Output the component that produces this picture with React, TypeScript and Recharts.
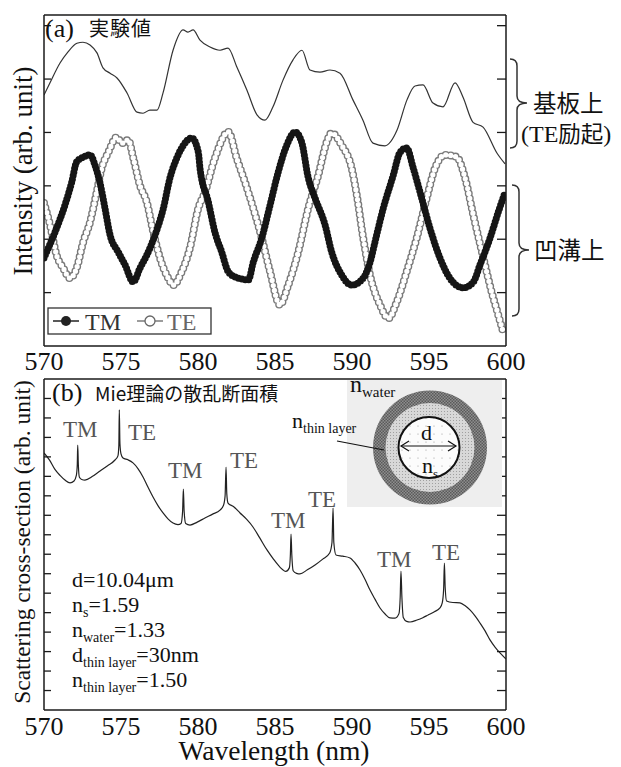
import React from 'react';
import { LineChart, Line, XAxis, YAxis } from 'recharts';

const SERIF = "'Liberation Serif', 'Times New Roman', serif";
const CJK = "'Noto Sans CJK JP', 'Noto Sans CJK SC', sans-serif";
const AX = '#1a1a1a';

const X_LABEL_TICKS = [570, 575, 580, 585, 590, 595, 600];
const X_MAJOR = [575, 580, 585, 590, 595];
const X_MINOR = [572.5, 577.5, 582.5, 587.5, 592.5, 597.5];
const TOP_Y_TICKS = [1, 2, 3, 4, 5, 6];
const BOT_Y_TICKS = [1, 2, 3, 4, 5, 6, 7, 8, 9, 10, 11, 12, 13, 14, 15, 16];

// (a) on substrate (TE excitation) - thin line
const SUB_WL = [570.0, 570.39, 571.04, 571.56, 572.14, 572.53, 572.99, 573.44, 573.83, 574.29, 574.74, 575.39, 576.04, 576.43, 576.88, 577.34, 577.73, 578.38, 579.03, 579.35, 579.68, 580.13, 580.78, 581.43, 581.95, 582.53, 583.18, 583.83, 584.35, 584.87, 585.52, 586.17, 586.75, 587.27, 587.92, 588.57, 589.22, 590.06, 590.71, 591.36, 592.14, 592.92, 593.57, 594.09, 594.61, 595.26, 595.91, 596.69, 597.21, 597.86, 598.51, 599.42, 599.94];
const SUB_VAL = [4.70, 4.93, 5.30, 5.51, 5.67, 5.69, 5.64, 5.49, 5.21, 5.11, 5.02, 4.74, 4.38, 4.36, 4.42, 4.42, 4.74, 5.54, 5.92, 5.88, 5.92, 5.73, 5.60, 5.54, 5.58, 5.22, 4.79, 4.33, 4.23, 4.48, 4.98, 5.36, 5.54, 5.17, 5.13, 5.17, 5.11, 4.61, 4.23, 3.80, 3.75, 4.04, 4.61, 4.87, 4.89, 4.55, 4.48, 4.93, 4.66, 4.19, 4.10, 3.61, 3.41];

// (a) groove TM (filled circles)
const TM_WL = [570.0, 570.71, 571.36, 571.80, 572.12, 572.55, 572.99, 573.31, 573.64, 573.96, 574.29, 574.82, 575.26, 575.80, 576.23, 576.67, 577.21, 577.75, 578.18, 578.62, 579.05, 579.59, 580.02, 580.13, 580.67, 581.10, 581.54, 581.97, 582.62, 583.27, 583.59, 584.14, 584.68, 585.21, 585.76, 586.30, 586.73, 587.16, 587.60, 588.25, 588.68, 589.33, 589.98, 590.73, 591.17, 591.60, 592.03, 592.68, 593.12, 593.55, 593.98, 594.42, 595.06, 595.71, 596.36, 597.23, 597.88, 598.31, 598.96, 599.50, 599.94];
const TM_VAL = [1.65, 2.13, 2.64, 3.07, 3.45, 3.54, 3.58, 3.39, 3.05, 2.58, 2.08, 1.76, 1.52, 1.20, 1.46, 1.70, 2.08, 2.58, 3.15, 3.52, 3.76, 3.90, 3.63, 3.33, 2.70, 2.13, 1.76, 1.39, 1.27, 1.24, 1.57, 2.02, 2.64, 3.26, 3.76, 4.01, 3.82, 3.15, 2.77, 2.27, 1.76, 1.33, 1.14, 1.27, 1.57, 2.08, 2.58, 3.20, 3.63, 3.71, 3.33, 2.88, 2.21, 1.65, 1.27, 1.09, 1.20, 1.52, 2.02, 2.51, 2.88];

// (a) groove TE (open circles)
const TE_WL = [570.0, 570.39, 570.82, 571.25, 571.69, 572.12, 572.55, 572.99, 573.42, 573.75, 574.18, 574.72, 575.06, 575.47, 575.80, 576.23, 576.67, 577.10, 577.53, 578.07, 578.40, 578.94, 579.48, 580.02, 580.45, 581.10, 581.97, 582.51, 583.05, 583.59, 584.14, 584.68, 585.32, 585.86, 586.51, 587.16, 587.81, 588.36, 588.68, 589.33, 589.98, 590.31, 590.73, 591.17, 591.82, 592.36, 592.90, 593.55, 594.20, 594.85, 595.39, 596.04, 596.80, 597.34, 597.88, 598.53, 599.07, 599.50, 599.82];
const TE_VAL = [2.68, 2.27, 1.70, 1.46, 1.27, 1.46, 1.95, 2.32, 2.88, 3.33, 3.63, 3.91, 3.80, 3.86, 3.52, 3.01, 2.70, 2.13, 1.65, 1.27, 1.14, 1.39, 1.84, 2.58, 2.88, 3.52, 4.01, 3.52, 3.07, 2.58, 2.02, 1.39, 0.77, 1.14, 1.76, 2.58, 3.20, 3.82, 3.99, 3.76, 3.33, 2.83, 2.02, 1.33, 0.77, 0.52, 0.82, 1.39, 2.02, 2.77, 3.33, 3.58, 3.54, 3.15, 2.45, 1.65, 1.01, 0.58, 0.26];

// (b) Mie scattering cross-section
const MIE_WL = [570.00, 570.35, 570.71, 571.04, 571.36, 571.69, 571.95, 572.10, 572.16, 572.19, 572.23, 572.30, 572.45, 572.66, 573.15, 573.64, 574.13, 574.61, 574.80, 574.86, 574.89, 574.93, 575.00, 575.13, 575.45, 575.78, 576.10, 576.43, 576.75, 577.08, 577.40, 577.73, 578.05, 578.38, 578.70, 578.90, 579.00, 579.05, 579.10, 579.20, 579.48, 579.95, 580.45, 580.95, 581.43, 581.65, 581.76, 581.82, 581.87, 581.95, 582.30, 582.73, 583.15, 583.57, 584.00, 584.48, 584.90, 585.32, 585.70, 585.93, 586.00, 586.04, 586.09, 586.18, 586.40, 586.62, 587.10, 587.60, 588.10, 588.55, 588.70, 588.77, 588.82, 588.96, 589.40, 589.87, 590.20, 590.52, 590.85, 591.17, 591.50, 591.82, 592.15, 592.47, 592.80, 593.05, 593.13, 593.18, 593.24, 593.33, 593.55, 593.77, 594.22, 594.60, 594.94, 595.35, 595.71, 595.86, 595.95, 596.00, 596.05, 596.14, 596.55, 597.01, 597.35, 597.66, 598.00, 598.31, 598.65, 598.96, 599.30, 599.61, 600.00];
const MIE_VAL = [13.20, 12.85, 12.36, 12.05, 11.81, 11.66, 11.76, 12.05, 12.60, 13.61, 12.60, 11.95, 11.84, 11.81, 12.00, 12.28, 12.55, 12.84, 13.05, 13.60, 15.41, 13.70, 13.15, 12.94, 12.85, 12.69, 12.40, 11.97, 11.45, 10.94, 10.50, 10.12, 9.82, 9.60, 9.52, 9.58, 10.20, 11.35, 10.20, 9.58, 9.50, 9.65, 9.86, 10.06, 10.27, 10.50, 11.00, 12.48, 11.10, 10.63, 10.45, 10.12, 9.80, 9.40, 8.85, 8.22, 7.75, 7.34, 7.12, 7.30, 8.00, 9.04, 8.00, 7.15, 7.02, 6.99, 7.20, 7.45, 7.75, 8.06, 8.60, 10.37, 8.60, 7.96, 7.90, 7.81, 7.55, 7.19, 6.70, 6.16, 5.68, 5.24, 4.93, 4.73, 4.72, 4.95, 5.80, 7.14, 5.80, 4.75, 4.55, 4.52, 4.62, 4.74, 4.88, 5.05, 5.24, 5.50, 6.20, 7.55, 6.30, 5.60, 5.52, 5.50, 5.35, 5.14, 4.82, 4.47, 4.05, 3.60, 3.22, 2.93, 2.62];

const zip = (xs: number[], ys: number[]) => xs.map((x, i) => ({ x, y: ys[i] }));
const subData = zip(SUB_WL, SUB_VAL);
const tmData = zip(TM_WL, TM_VAL);
const teData = zip(TE_WL, TE_VAL);
const mieData = zip(MIE_WL, MIE_VAL);

const empty = () => '';

function frameAxes(yDomain: number[], yTicks: number[], labelTickSize: number, axisHeight: number) {
  const common = { type: 'number' as const, domain: [570, 600], allowDataOverflow: true, interval: 0 as const, stroke: AX };
  return [
    <XAxis key="xmain" xAxisId="main" dataKey="x" {...common} ticks={X_LABEL_TICKS} height={axisHeight}
      tickLine={false} tickSize={labelTickSize} axisLine={{ stroke: AX, strokeWidth: 1.5 }}
      tick={{ fontSize: 26, fill: '#111', fontFamily: SERIF }} />,
    <XAxis key="xmaj" xAxisId="maj" {...common} ticks={X_MAJOR} mirror orientation="bottom" tickSize={9}
      axisLine={false} tickLine={{ strokeWidth: 1.3 }} tickFormatter={empty} />,
    <XAxis key="xmin" xAxisId="min" {...common} ticks={X_MINOR} mirror orientation="bottom" tickSize={5}
      axisLine={false} tickLine={{ strokeWidth: 1.3 }} tickFormatter={empty} />,
    <XAxis key="tmaj" xAxisId="tmaj" {...common} ticks={X_MAJOR} mirror orientation="top" tickSize={9}
      axisLine={{ stroke: AX, strokeWidth: 1.5 }} tickLine={{ strokeWidth: 1.3 }} tickFormatter={empty} />,
    <XAxis key="tmin" xAxisId="tmin" {...common} ticks={X_MINOR} mirror orientation="top" tickSize={6}
      axisLine={false} tickLine={{ strokeWidth: 1.3 }} tickFormatter={empty} />,
    <YAxis key="yl" yAxisId="L" type="number" domain={yDomain} allowDataOverflow ticks={yTicks} interval={0}
      mirror orientation="left" tickSize={7} stroke={AX} axisLine={{ stroke: AX, strokeWidth: 1.5 }}
      tickLine={{ strokeWidth: 1.3 }} tickFormatter={empty} />,
    <YAxis key="yr" yAxisId="R" type="number" domain={yDomain} allowDataOverflow ticks={yTicks} interval={0}
      mirror orientation="right" tickSize={9} stroke={AX} axisLine={{ stroke: AX, strokeWidth: 1.5 }}
      tickLine={{ strokeWidth: 1.3 }} tickFormatter={empty} />,
  ];
}

function Sub({ x, y, main, sub, size, subSize, rest, fill = '#111' }: any) {
  return (
    <text x={x} y={y} fontFamily={SERIF} fontSize={size} fill={fill}>
      {main}
      <tspan fontSize={subSize} dy={5}>{sub}</tspan>
      {rest ? <tspan fontSize={size} dy={-5}>{rest}</tspan> : null}
    </text>
  );
}

function Overlay() {
  const peakLabels = [
    { t: 'TM', x: 63, y: 437 }, { t: 'TE', x: 128, y: 440 },
    { t: 'TM', x: 168, y: 478 }, { t: 'TE', x: 230, y: 468 },
    { t: 'TM', x: 271, y: 528 }, { t: 'TE', x: 308, y: 507 },
    { t: 'TM', x: 377, y: 567 }, { t: 'TE', x: 432, y: 560 },
  ];
  return (
    <svg width={621} height={767} style={{ position: 'absolute', left: 0, top: 0, pointerEvents: 'none' }}>
      <defs>
        <pattern id="darkRing" width="3" height="3" patternUnits="userSpaceOnUse">
          <rect width="3" height="3" fill="#8e8e8e" />
          <rect width="1.5" height="1.5" fill="#5a5a5a" />
          <rect x="1.5" y="1.5" width="1.5" height="1.5" fill="#5a5a5a" />
        </pattern>
        <pattern id="lightRing" width="3" height="3" patternUnits="userSpaceOnUse">
          <rect width="3" height="3" fill="#d8d8d8" />
          <rect width="1" height="1" fill="#a0a0a0" />
        </pattern>
        <pattern id="core" width="8" height="8" patternUnits="userSpaceOnUse">
          <rect width="8" height="8" fill="#fcfcfc" />
          <circle cx="2" cy="2" r="0.6" fill="#999" />
        </pattern>
      </defs>

      {/* axis titles */}
      <text transform="translate(32,171) rotate(-90)" textAnchor="middle" fontFamily={SERIF} fontSize={27} fill="#111">Intensity (arb. unit)</text>
      <text transform="translate(30,542) rotate(-90)" textAnchor="middle" fontFamily={SERIF} fontSize={23.5} fill="#111">Scattering cross-section (arb. unit)</text>
      <text x={274} y={760} textAnchor="middle" fontFamily={SERIF} fontSize={27.5} fill="#111">Wavelength (nm)</text>

      {/* panel (a) */}
      <text x={45} y={37} fontFamily={SERIF} fontSize={26} fill="#111">(a)</text>
      <text x={89} y={36} fontFamily={CJK} fontSize={20} letterSpacing={1} fill="#111">実験値</text>

      <rect x={48} y={308} width={163} height={26} fill="#fff" stroke="#333" strokeWidth={1.3} />
      <line x1={53} y1={321} x2={79} y2={321} stroke="#222" strokeWidth={1.5} />
      <circle cx={66} cy={321} r={5} fill="#222" />
      <text x={85} y={330} fontFamily={SERIF} fontSize={24} fill="#333">TM</text>
      <line x1={137} y1={321} x2={163} y2={321} stroke="#666" strokeWidth={1.3} />
      <circle cx={150} cy={321} r={5} fill="#fff" stroke="#666" strokeWidth={1.3} />
      <text x={167} y={330} fontFamily={SERIF} fontSize={24} fill="#666">TE</text>

      <path d="M510,59 Q517,59 517,66 L517,96 Q517,103 527,103 Q517,103 517,110 L517,141 Q517,148 510,148" fill="none" stroke="#333" strokeWidth={1.5} />
      <text x={533} y={112} fontFamily={CJK} fontSize={23.5} fill="#111">基板上</text>
      <text x={521} y={142} fontSize={24} fill="#111">
        <tspan fontFamily={SERIF}>(TE</tspan>
        <tspan fontFamily={CJK} fontSize={22.5}>励起</tspan>
        <tspan fontFamily={SERIF}>)</tspan>
      </text>
      <path d="M512,185 Q519,185 519,192 L519,243 Q519,250 529,250 Q519,250 519,257 L519,309 Q519,316 512,316" fill="none" stroke="#333" strokeWidth={1.5} />
      <text x={534} y={259} fontFamily={CJK} fontSize={23.5} fill="#111">凹溝上</text>

      {/* panel (b) */}
      <text x={52} y={401} fontFamily={SERIF} fontSize={26} fill="#111">(b)</text>
      <text x={95} y={401} fontFamily={CJK} fontSize={19} fill="#111">Mie理論の散乱断面積</text>
      {peakLabels.map((p, i) => (
        <text key={i} x={p.x} y={p.y} fontFamily={SERIF} fontSize={23} fill="#555">{p.t}</text>
      ))}

      <Sub x={72} y={587} main="d=10.04μm" sub="" size={22} subSize={14} />
      <Sub x={72} y={612} main="n" sub="s" rest="=1.59" size={22} subSize={14} />
      <Sub x={72} y={637} main="n" sub="water" rest="=1.33" size={22} subSize={14} />
      <Sub x={72} y={662} main="d" sub="thin layer" rest="=30nm" size={22} subSize={14} />
      <Sub x={72} y={687} main="n" sub="thin layer" rest="=1.50" size={22} subSize={14} />

      {/* inset */}
      <rect x={347} y={380} width={155} height={127} fill="#eeeeee" />
      <circle cx={430} cy={447.5} r={57} fill="url(#darkRing)" />
      <circle cx={430} cy={447.5} r={44.5} fill="url(#lightRing)" />
      <circle cx={429} cy={447.5} r={30.5} fill="url(#core)" stroke="#111" strokeWidth={2} />
      <line x1={401} y1={446} x2={456} y2={446} stroke="#111" strokeWidth={1.2} />
      <polyline points="409,441 401,446 409,451" fill="none" stroke="#111" strokeWidth={1.2} />
      <polyline points="448,441 456,446 448,451" fill="none" stroke="#111" strokeWidth={1.2} />
      <text x={421} y={440} fontFamily={SERIF} fontSize={22} fill="#111">d</text>
      <Sub x={422} y={473} main="n" sub="s" size={22} subSize={13} />
      <Sub x={350} y={392} main="n" sub="water" size={24} subSize={15} />
      <Sub x={292} y={428} main="n" sub="thin layer" size={22} subSize={14} />
      <line x1={337} y1={441} x2={384} y2={450} stroke="#111" strokeWidth={1.2} />
    </svg>
  );
}

export default function App() {
  return (
    <div style={{ position: 'absolute', left: 0, top: 0, width: 621, height: 767, background: '#fff' }}>
      <div style={{ position: 'absolute', left: 0, top: 0 }}>
        <LineChart width={621} height={380} margin={{ top: 15, right: 115, bottom: 0, left: 44 }}>
          {frameAxes([0, 6.2], TOP_Y_TICKS, 4, 34)}
          <Line data={subData} dataKey="y" xAxisId="main" yAxisId="L" type="monotone" stroke="#333" strokeWidth={1.2}
            dot={false} activeDot={false} isAnimationActive={false} />
          <Line data={teData} dataKey="y" xAxisId="main" yAxisId="L" type="monotone" stroke="#7a7a7a" strokeWidth={8}
            strokeDasharray="0 5" strokeLinecap="round" dot={false} activeDot={false} isAnimationActive={false} />
          <Line data={teData} dataKey="y" xAxisId="main" yAxisId="L" type="monotone" stroke="#ffffff" strokeWidth={5.2}
            strokeDasharray="0 5" strokeLinecap="round" dot={false} activeDot={false} isAnimationActive={false} />
          <Line data={tmData} dataKey="y" xAxisId="main" yAxisId="L" type="monotone" stroke="#151515" strokeWidth={7}
            strokeDasharray="0 3.5" strokeLinecap="round" dot={false} activeDot={false} isAnimationActive={false} />
        </LineChart>
      </div>
      <div style={{ position: 'absolute', left: 0, top: 360 }}>
        <LineChart width={621} height={407} margin={{ top: 19, right: 115, bottom: 27, left: 44 }}>
          {frameAxes([0, 17], BOT_Y_TICKS, 5, 30)}
          <Line data={mieData} dataKey="y" xAxisId="main" yAxisId="L" type="monotone" stroke="#222" strokeWidth={1.2}
            dot={false} activeDot={false} isAnimationActive={false} />
        </LineChart>
      </div>
      <Overlay />
    </div>
  );
}
